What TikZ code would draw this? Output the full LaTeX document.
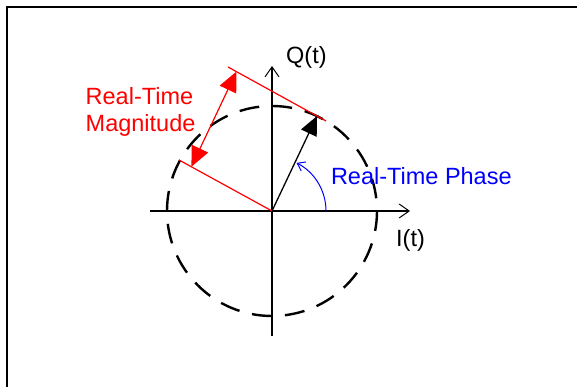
\documentclass[tikz,border=0pt]{standalone}
\usepackage{fontspec}
\setmainfont{Liberation Sans}
\usetikzlibrary{arrows.meta}
\begin{document}
\begin{tikzpicture}[x=1pt,y=1pt,
  axis/.style={line width=2pt,-{Straight Barb[length=10pt,width=14pt,line width=1pt]}},
  circ/.style={line width=2.4pt,dash pattern=on 20pt off 13pt},
  redline/.style={red,line width=1.2pt},
  lbl/.style={inner sep=0pt,anchor=base west,font=\fontsize{23.5}{27}\selectfont}]
\useasboundingbox (0,0) rectangle (577,387);
\draw[line width=2pt] (7,0) -- (7,380) -- (577,380);
\coordinate (O) at (272,176);
\coordinate (hl) at (150,176);
\coordinate (hr) at (410,176);
\coordinate (vb) at (272,51);
\coordinate (vt) at (272,321);
\coordinate (tip) at (317,271);
\coordinate (t1) at (228,320);
\coordinate (t2) at (326,266);
\coordinate (l2) at (179,227);
\coordinate (m1) at (191.4,220.3);
\coordinate (m2) at (236.5,315.5);
% circle
\draw[circ] (O) ++(105,0) arc[start angle=0,end angle=-360,radius=105pt];
% axes
\draw[axis] (hl) -- (hr);
\draw[axis] (vb) -- (vt);
% vector
\draw[line width=1.3pt,-{Triangle[length=19pt,width=17pt]}] (O) -- (tip);
% red lines
\draw[redline] (t1) -- (t2);
\draw[redline] (O) -- (l2);
\draw[redline,{Triangle[length=20pt,width=18pt]}-{Triangle[length=20pt,width=18pt]}] (m1) -- (m2);
% phase arc
\draw[blue,line width=1pt,-{Straight Barb[length=7pt,width=10pt,line width=1pt]}] (O) ++(54,0) arc[start angle=0,end angle=63,radius=54pt];
% labels
\node[lbl] (q) at (286,323.5) {Q(t)};
\node[lbl] (i) at (396,140.3) {I(t)};
\node[lbl,blue] (ph) at (330.8,202) {Real-Time Phase};
\node[lbl,red] (mg1) at (85.5,282) {Real-Time};
\node[lbl,red] (mg2) at (85.5,255.3) {Magnitude};
\end{tikzpicture}
\end{document}
